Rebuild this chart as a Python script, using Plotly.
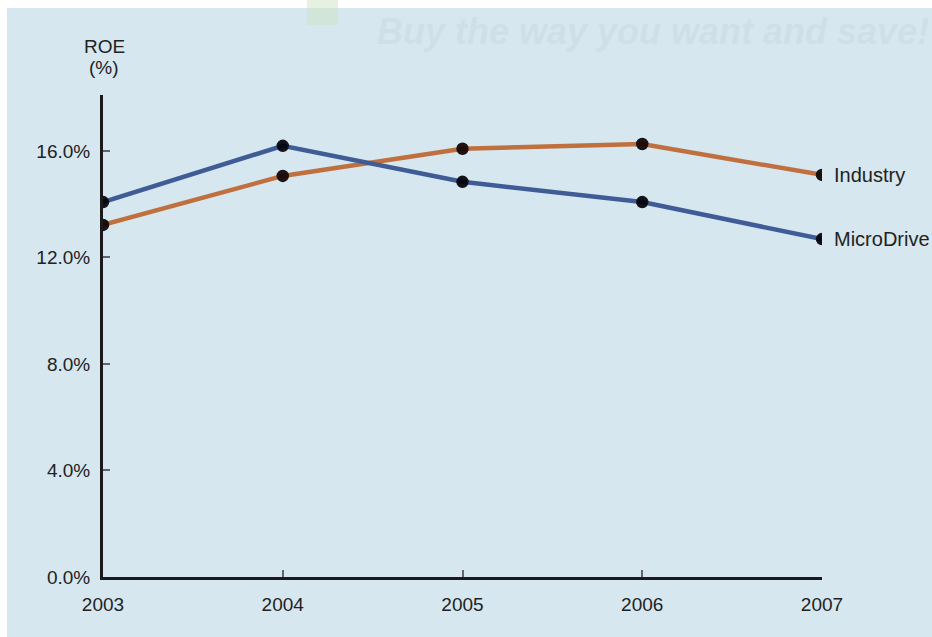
import plotly.graph_objects as go

years = [2003, 2004, 2005, 2006, 2007]
microdrive_roe = [14.08, 16.19, 14.84, 14.08, 12.69]
industry_roe = [13.22, 15.06, 16.08, 16.26, 15.10]
y_ticks = [0, 4, 8, 12, 16]
y_tick_labels = ["0.0%", "4.0%", "8.0%", "12.0%", "16.0%"]

BG = "#d6e7ef"
FONT = "Liberation Sans, Arial, sans-serif"
TXT = "#222222"

fig = go.Figure()
fig.add_trace(go.Scatter(
    x=years, y=industry_roe, mode="lines+markers", name="Industry",
    line=dict(color="#c0703f", width=4.5),
    marker=dict(color="rgba(20,0,0,0.92)", size=11, line=dict(color="#151515", width=1.5)),
))
fig.add_trace(go.Scatter(
    x=years, y=microdrive_roe, mode="lines+markers", name="MicroDrive",
    line=dict(color="#3f5c96", width=4.5),
    marker=dict(color="rgba(0,0,10,0.92)", size=11, line=dict(color="#151515", width=1.5)),
))

# end labels
fig.add_annotation(x=years[-1], y=industry_roe[-1], text="Industry", showarrow=False,
                   xanchor="left", xshift=10, font=dict(size=20, color=TXT, family=FONT))
fig.add_annotation(x=years[-1], y=microdrive_roe[-1], text="MicroDrive", showarrow=False,
                   xanchor="left", xshift=10, font=dict(size=20, color=TXT, family=FONT))

# axis title (two lines, tight spacing)
fig.add_annotation(x=0, y=(577 - 47) / 482, xref="paper", yref="paper", text="ROE", showarrow=False,
                   xanchor="center", yanchor="middle", xshift=1,
                   font=dict(size=19, color=TXT, family=FONT))
fig.add_annotation(x=0, y=(577 - 68) / 482, xref="paper", yref="paper", text="(%)", showarrow=False,
                   xanchor="center", yanchor="middle", xshift=1,
                   font=dict(size=19, color=TXT, family=FONT))

# faint watermark
fig.add_annotation(x=(931 - 103) / 719, y=(577 - 31) / 482, xref="paper", yref="paper",
                   text="<b><i>Buy the way you want and save!</i></b>", showarrow=False,
                   xanchor="right", yanchor="middle",
                   font=dict(size=36, color="rgba(200,212,220,0.4)", family=FONT))

# blue panel
fig.add_shape(type="rect", xref="paper", yref="paper", x0=-0.1335, x1=1.16, y0=-0.13, y1=1.1805,
              fillcolor=BG, line=dict(width=0), layer="below")
# faint logo square in top strip
fig.add_shape(type="rect", xref="paper", yref="paper",
              x0=(307 - 103) / 719, x1=(338 - 103) / 719,
              y0=(577 - 25) / 482, y1=1.2,
              fillcolor="rgba(205,228,195,0.5)", line=dict(width=0), layer="below")

fig.update_layout(
    width=932, height=637,
    margin=dict(l=103, r=110, t=95, b=60),
    paper_bgcolor="white", plot_bgcolor=BG,
    showlegend=False,
    font=dict(family=FONT, size=20, color=TXT),
    xaxis=dict(range=[2003, 2007], tickvals=years, ticktext=[str(y) for y in years],
               showline=True, linecolor="#1a1a1a", linewidth=3, showgrid=False, zeroline=False,
               ticks="inside", ticklen=7, tickcolor="#666", tickwidth=1.5,
               tickfont=dict(size=19, color=TXT), ticklabelstandoff=8),
    yaxis=dict(range=[0, 18.1], tickvals=y_ticks, ticktext=y_tick_labels,
               showline=True, linecolor="#1a1a1a", linewidth=3, showgrid=False, zeroline=False,
               ticks="inside", ticklen=7, tickcolor="#666", tickwidth=1.5,
               tickfont=dict(size=19, color=TXT), ticklabelstandoff=6),
)

fig.write_html("out.html", config={"displayModeBar": False},
               post_script="document.body.style.margin='0';document.body.style.overflow='hidden';")
